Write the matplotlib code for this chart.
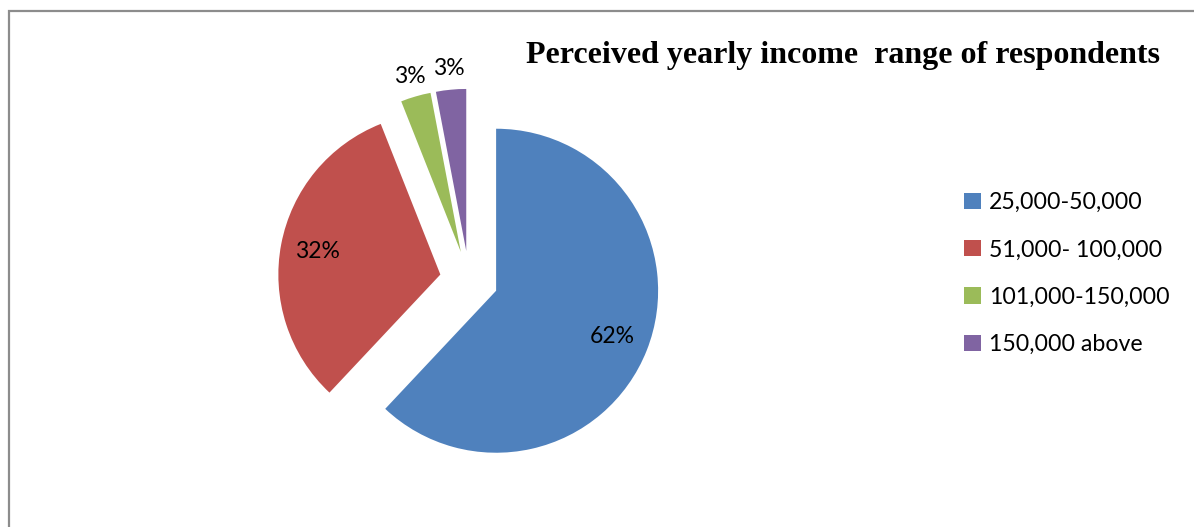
import numpy as np
import matplotlib
matplotlib.use("Agg")
import matplotlib.pyplot as plt
from matplotlib.patches import Rectangle

# data
categories = ["25,000-50,000", "51,000- 100,000", "101,000-150,000", "150,000 above"]
shares = [62, 32, 3, 3]
colors = ["#4F81BD", "#C0504D", "#9BBB59", "#8064A2"]
title = "Perceived yearly income  range of respondents"

W, H = 1194, 527
fig = plt.figure(figsize=(W / 100, H / 100), dpi=100)
ax = fig.add_axes([0, 0, 1, 1])

# pixel coordinates on the axes
R = 162
wedges, texts, autotexts = ax.pie(
    shares, colors=colors, startangle=90, counterclock=False,
    radius=R, center=(469, H - 280), explode=[0.18 * R] * 4,
    autopct=lambda p: f"{p:.0f}%", pctdistance=0.77,
    wedgeprops=dict(linewidth=0), frame=True,
    textprops=dict(fontsize=16.5, family="Lato", color="black"))

# small slices get their labels outside
for w, t, v in zip(wedges, autotexts, shares):
    if v < 5:
        mid = np.deg2rad((w.theta1 + w.theta2) / 2)
        cx, cy = w.center
        t.set_position((cx + 1.13 * R * np.cos(mid), cy + 1.13 * R * np.sin(mid)))

ax.set_xlim(0, W)
ax.set_ylim(0, H)
ax.set_aspect("equal")
ax.axis("off")

# chart frame
ax.add_patch(Rectangle((9, -20), W, H - 11 + 20, fill=False,
                       edgecolor="#8c8c8c", linewidth=1.6, clip_on=False))

ax.text(843, H - 56, title, ha="center", va="center", fontsize=23,
        fontweight="bold", family="Liberation Serif")

leg = ax.legend(wedges, categories, loc="upper left", bbox_to_anchor=(955 / W, 1 - 183 / H),
                frameon=False, prop=dict(family="Lato", size=16.7),
                handlelength=0.7, handleheight=0.7, handletextpad=0.35,
                labelspacing=1.13, borderaxespad=0)

fig.savefig("out.png", dpi=100)
